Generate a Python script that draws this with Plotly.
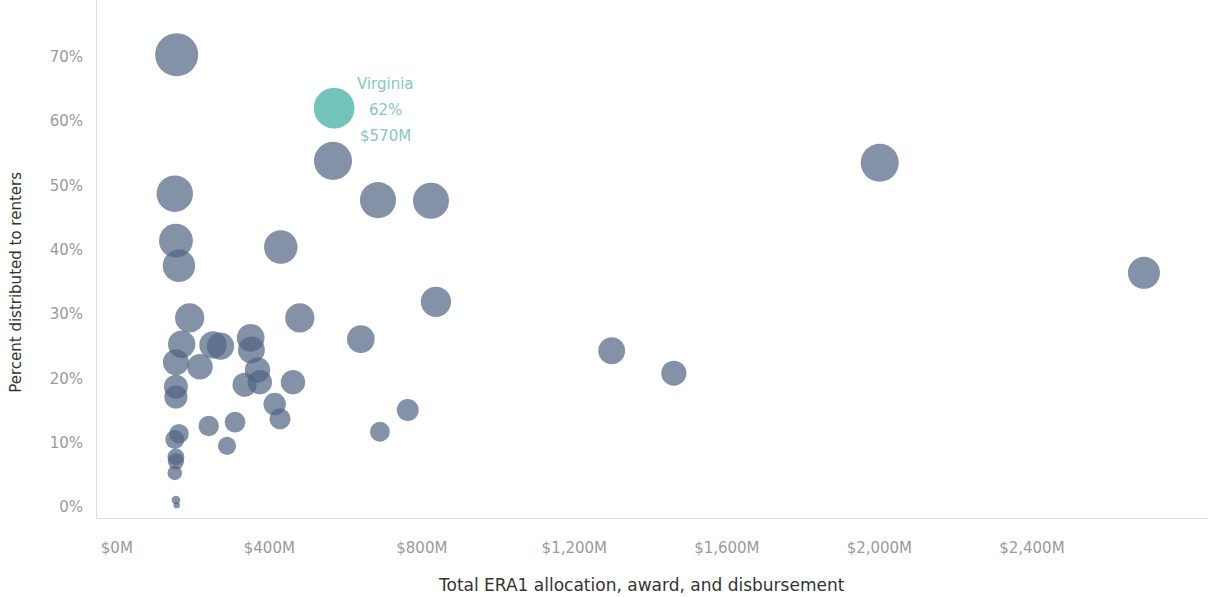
import numpy as np
import plotly.graph_objects as go

# ERA1 totals ($M) and share distributed to renters (%), one entry per grantee
amount_m = [157, 567, 2001, 152, 685, 824, 155, 430, 163, 2694, 837, 191, 480,
            170, 640, 252, 272, 351, 353, 155, 218, 1298, 369, 375, 335, 462,
            155, 155, 1461, 414, 428, 763, 310, 241, 690, 163, 152, 289, 155,
            155, 152, 155, 157]
pct_renters = [70.3, 53.8, 53.5, 48.7, 47.7, 47.6, 41.4, 40.4, 37.5, 36.4, 31.9,
               29.4, 29.4, 25.3, 26.1, 25.2, 25.0, 26.3, 24.4, 22.5, 21.8, 24.3,
               21.3, 19.4, 19.0, 19.4, 18.7, 17.1, 20.8, 16.0, 13.7, 15.1, 13.2,
               12.6, 11.7, 11.4, 10.5, 9.5, 7.8, 7.1, 5.3, 1.1, 0.3]

highlight_name = "Virginia"
highlight_amount = 570
highlight_pct = 62

x_ticks = [0, 400, 800, 1200, 1600, 2000, 2400]
x_tick_text = ["$0M", "$400M", "$800M", "$1,200M", "$1,600M", "$2,000M", "$2,400M"]
y_ticks = [0, 10, 20, 30, 40, 50, 60, 70]
y_tick_text = [f"{v}%" for v in y_ticks]

FONT = "DejaVu Sans"


def bubble_size(p):
    return 3.8 + 4.68 * np.sqrt(np.asarray(p, dtype=float))


fig = go.Figure()
fig.add_trace(go.Scatter(
    x=amount_m, y=pct_renters, mode="markers",
    marker=dict(size=bubble_size(pct_renters), color="rgb(80,100,130)",
                opacity=0.7, line=dict(width=0)),
    hovertemplate="$%{x}M<br>%{y}%<extra></extra>",
))
fig.add_trace(go.Scatter(
    x=[highlight_amount], y=[highlight_pct], mode="markers",
    marker=dict(size=bubble_size([highlight_pct]), color="rgb(60,172,158)",
                opacity=0.72, line=dict(width=0)),
    hovertemplate=highlight_name + "<br>$%{x}M<br>%{y}%<extra></extra>",
))

label_lines = [highlight_name, f"{highlight_pct}%", f"${highlight_amount}M"]
for i, txt in enumerate(label_lines):
    fig.add_annotation(
        x=highlight_amount, y=highlight_pct, text=txt, showarrow=False,
        xshift=51, yshift=24 - 26 * i,
        font=dict(family=FONT, size=15, color="#86c7bf"),
    )

# axis titles as annotations so they sit where the original puts them
fig.add_annotation(
    text="Total ERA1 allocation, award, and disbursement",
    xref="paper", yref="paper", x=0.49, y=0, yshift=-67,
    xanchor="center", yanchor="middle", showarrow=False,
    font=dict(family=FONT, size=17, color="#333333"),
)
fig.add_annotation(
    text="Percent distributed to renters", textangle=-90,
    xref="paper", yref="paper", x=0, y=0.454, xshift=-81,
    xanchor="center", yanchor="middle", showarrow=False,
    font=dict(family=FONT, size=15, color="#333333"),
)

fig.update_layout(
    width=1208, height=597,
    margin=dict(l=97, r=0, t=0, b=79),
    paper_bgcolor="white", plot_bgcolor="white",
    showlegend=False,
    font=dict(family=FONT, color="#999999"),
)
fig.update_xaxes(
    range=[-52, 2862], tickvals=x_ticks, ticktext=x_tick_text,
    showgrid=False, zeroline=False, showline=True, linecolor="#e0e0e0",
    linewidth=1, ticks="", ticklabelstandoff=16,
    tickfont=dict(family=FONT, size=15, color="#9a9a9a"),
)
fig.update_yaxes(
    range=[-1.7, 78.8], tickvals=y_ticks, ticktext=y_tick_text,
    showgrid=False, zeroline=False, showline=True, linecolor="#e0e0e0",
    linewidth=1, ticks="", ticklabelstandoff=10,
    tickfont=dict(family=FONT, size=15, color="#9a9a9a"),
)

fig.write_html("out.html", config={"displayModeBar": False},
               post_script="document.body.style.margin='0';")
